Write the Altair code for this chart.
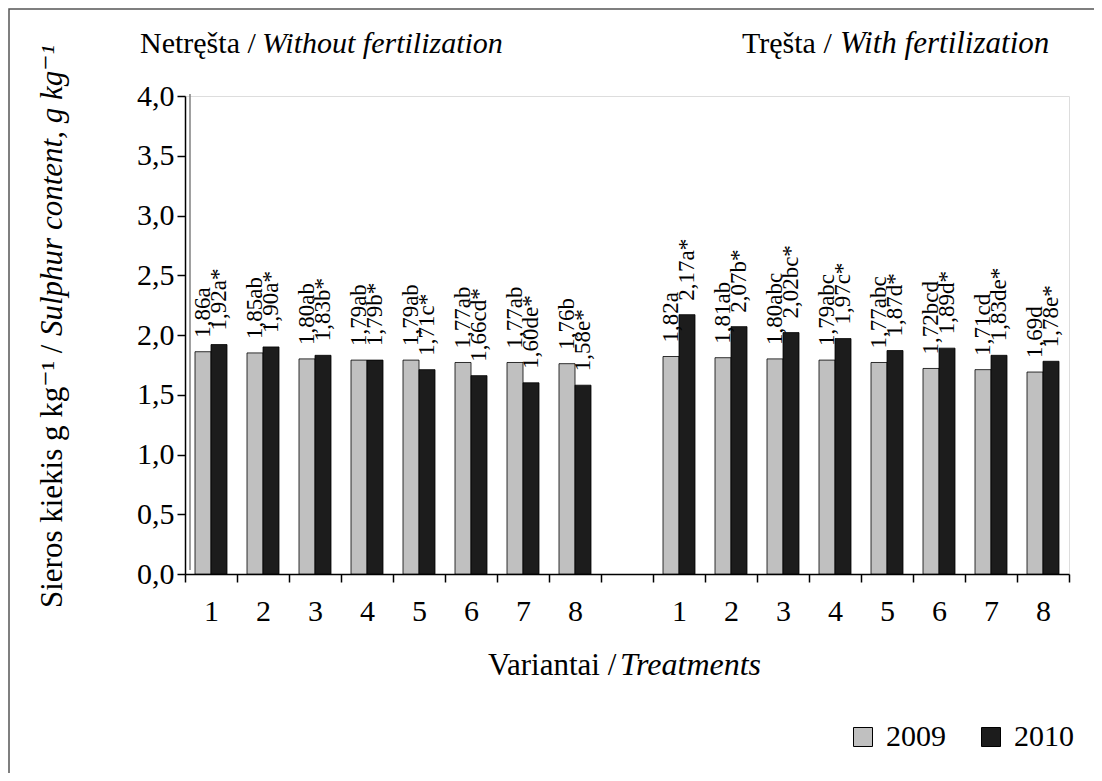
import altair as alt
import pandas as pd

FONT = "'Liberation Serif', 'Times New Roman', Times, 'DejaVu Serif', serif"

treatments = ["1", "2", "3", "4", "5", "6", "7", "8"]
years = ["2009", "2010"]

# Without fertilization (Netręšta)
val_2009_nf = [1.86, 1.85, 1.80, 1.79, 1.79, 1.77, 1.77, 1.76]
let_2009_nf = ["a", "ab", "ab", "ab", "ab", "ab", "ab", "b"]
val_2010_nf = [1.92, 1.90, 1.83, 1.79, 1.71, 1.66, 1.60, 1.58]
let_2010_nf = ["a", "a", "b", "b", "c", "cd", "de", "e"]

# With fertilization (Tręšta)
val_2009_f = [1.82, 1.81, 1.80, 1.79, 1.77, 1.72, 1.71, 1.69]
let_2009_f = ["a", "ab", "abc", "abc", "abc", "bcd", "cd", "d"]
val_2010_f = [2.17, 2.07, 2.02, 1.97, 1.87, 1.89, 1.83, 1.78]
let_2010_f = ["a", "b", "bc", "c", "d", "d", "de", "e"]

y_ticks = [0, 0.5, 1.0, 1.5, 2.0, 2.5, 3.0, 3.5, 4.0]

slots = ["N" + t for t in treatments] + ["gap"] + ["F" + t for t in treatments]

rows = []
for grp, v09, l09, v10, l10 in [
    ("N", val_2009_nf, let_2009_nf, val_2010_nf, let_2010_nf),
    ("F", val_2009_f, let_2009_f, val_2010_f, let_2010_f),
]:
    for i, t in enumerate(treatments):
        rows.append({"slot": grp + t, "year": "2009", "value": v09[i],
                     "label": f"{v09[i]:.2f}".replace(".", ",") + l09[i]})
        rows.append({"slot": grp + t, "year": "2010", "value": v10[i],
                     "label": f"{v10[i]:.2f}".replace(".", ",") + l10[i] + "*"})
df = pd.DataFrame(rows)

x_enc = alt.X(
    "slot:N",
    sort=slots,
    scale=alt.Scale(domain=slots, paddingInner=0, paddingOuter=0),
    axis=alt.Axis(
        title=None,
        labelExpr="isString(datum.value) && datum.value != 'gap' ? substring(datum.value, 1) : ''",
        labelAngle=0,
        tickBand="extent",
        labelFont=FONT,
        labelFontSize=30,
        labelColor="black",
        labelPadding=14,
        tickColor="black",
        tickSize=8,
        tickWidth=1.5,
        domainColor="black",
        domainWidth=1.5,
    ),
)
xoff_enc = alt.XOffset(
    "year:N", scale=alt.Scale(domain=years, paddingInner=0, paddingOuter=0.625)
)
y_enc = alt.Y(
    "value:Q",
    scale=alt.Scale(domain=[0, 4]),
    axis=alt.Axis(
        title=None,
        values=y_ticks,
        labelExpr="replace(format(datum.value, '.1f'), '.', ',')",
        labelFont=FONT,
        labelFontSize=30,
        labelColor="black",
        labelPadding=3,
        tickColor="black",
        tickSize=8,
        tickWidth=1.5,
        domainColor="black",
        domainWidth=1.5,
        grid=False,
    ),
)

base = alt.Chart(df)

bars = base.mark_bar(stroke="black", strokeWidth=0.8).encode(
    x=x_enc,
    xOffset=xoff_enc,
    y=y_enc,
    color=alt.Color(
        "year:N",
        scale=alt.Scale(domain=years, range=["#c0c0c0", "#1c1c1c"]),
        legend=alt.Legend(
            title=None,
            orient="none",
            legendX=663,
            legendY=626,
            direction="horizontal",
            symbolType="square",
            symbolSize=361,
            symbolStrokeColor="black",
            symbolStrokeWidth=1,
            labelFont=FONT,
            labelFontSize=30,
            labelColor="black",
            labelOffset=8,
            columnPadding=30,
        ),
    ),
)

labels = base.mark_text(
    angle=270, align="left", baseline="middle", dx=14,
    font=FONT, fontSize=23, color="black"
).encode(x=x_enc, xOffset=xoff_enc, y=y_enc, text="label:N")


def txt(s, x, y, italic=False, angle=0, size=30):
    kw = dict(align="left", baseline="alphabetic", font=FONT, fontSize=size, color="black")
    if italic:
        kw["fontStyle"] = "italic"
    if angle:
        kw["angle"] = angle
    return alt.Chart(pd.DataFrame({"t": [s]})).mark_text(**kw).encode(
        x=alt.value(x), y=alt.value(y), text="t:N"
    )


texts = [
    txt("Netręšta /", -45, -43),
    txt("Without fertilization", 77, -43, italic=True),
    txt("Tręšta /", 557, -43),
    txt("With fertilization", 655, -43, italic=True, size=31),
    txt("Variantai /", 303, 579, size=31),
    txt("Treatments", 435, 579, italic=True, size=32),
    txt("Sieros kiekis g kg⁻¹ /", -123, 512, angle=270, size=31),
    txt("Sulphur content, g kg⁻¹", -123, 240, italic=True, angle=270, size=31),
]

wall = alt.Chart(pd.DataFrame({"a": [0]})).mark_rule(
    color="#808080", strokeWidth=1.5
).encode(x=alt.value(5), y=alt.value(-2), y2=alt.value(474))

frame = alt.Chart(pd.DataFrame({"a": [0]})).mark_rect(
    fillOpacity=0, stroke="#555555", strokeWidth=1.5
).encode(x=alt.value(-176), x2=alt.value(1000), y=alt.value(-87), y2=alt.value(800))

chart = alt.layer(frame, wall, bars, labels, *texts).properties(
    width=884,
    height=478,
    autosize=alt.AutoSizeParams(type="none"),
    padding={"left": 177, "top": 88, "right": 25, "bottom": 199},
).configure_view(stroke="#808080", strokeWidth=1.5).configure(background="white")

chart.save("out.html", embed_options={"renderer": "svg", "actions": False})
